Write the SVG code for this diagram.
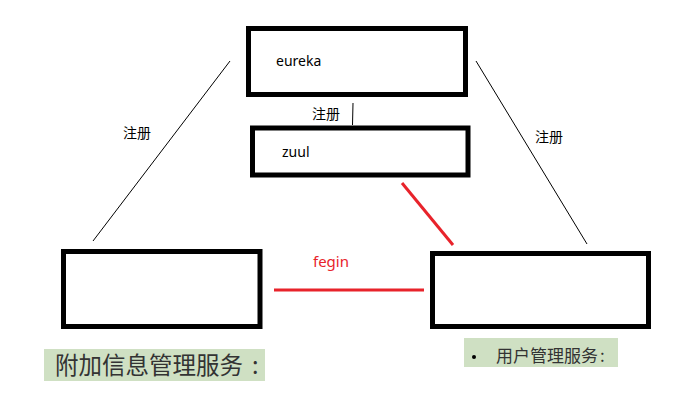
<svg xmlns="http://www.w3.org/2000/svg" width="682" height="407" viewBox="0 0 682 407">
<style>
.box{fill:#fff;stroke:#000;stroke-width:5}
.t{font-family:"Noto Sans","Noto Sans CJK SC",sans-serif;font-size:14px;fill:#000}
.c{font-family:"Noto Sans CJK SC",sans-serif;font-size:14px;fill:#000}
.thin{stroke:#000;stroke-width:1;fill:none}
.red{stroke:#e8232b;stroke-width:3;fill:none}
.lbl{font-family:"Noto Sans CJK SC",sans-serif;fill:#333}
</style>
<rect width="682" height="407" fill="#fff"/>
<g id="connectors">
<line class="thin" x1="230" y1="61" x2="93" y2="241"/>
<line class="thin" x1="476" y1="61" x2="587" y2="244"/>
<line class="thin" x1="353" y1="103" x2="352.5" y2="125"/>
<line class="red" x1="402" y1="183" x2="453" y2="245"/>
<line class="red" x1="274" y1="290" x2="424" y2="290"/>
<text class="c" x="123" y="138">注册</text>
<text class="c" x="535" y="142">注册</text>
<text class="c" x="312" y="119">注册</text>
<text x="313" y="267" font-family="Noto Sans, sans-serif" font-size="15" fill="#e8232b">fegin</text>
</g>
<g id="eureka">
<rect class="box" x="248.5" y="28.5" width="217" height="66"/>
<text class="t" x="276" y="66">eureka</text>
</g>
<g id="zuul">
<rect class="box" x="252.5" y="128" width="215.5" height="47"/>
<text class="t" x="282" y="157">zuul</text>
</g>
<g id="attach-service">
<rect class="box" x="63.5" y="251.5" width="196.5" height="75"/>
</g>
<g id="user-service">
<rect class="box" x="432.5" y="253.5" width="216" height="73"/>
</g>
<g id="label-left">
<rect x="44" y="349" width="221" height="32" fill="#cfe0c3"/>
<text class="lbl" x="55" y="374" font-size="23.5">附加信息管理服务<tspan x="252">:</tspan></text>
</g>
<g id="label-right">
<rect x="464" y="338" width="154" height="29" fill="#cfe0c3"/>
<circle cx="474" cy="357" r="2" fill="#000"/>
<text class="lbl" x="496" y="362" font-size="17">用户管理服务<tspan x="600">:</tspan></text>
</g>
</svg>
